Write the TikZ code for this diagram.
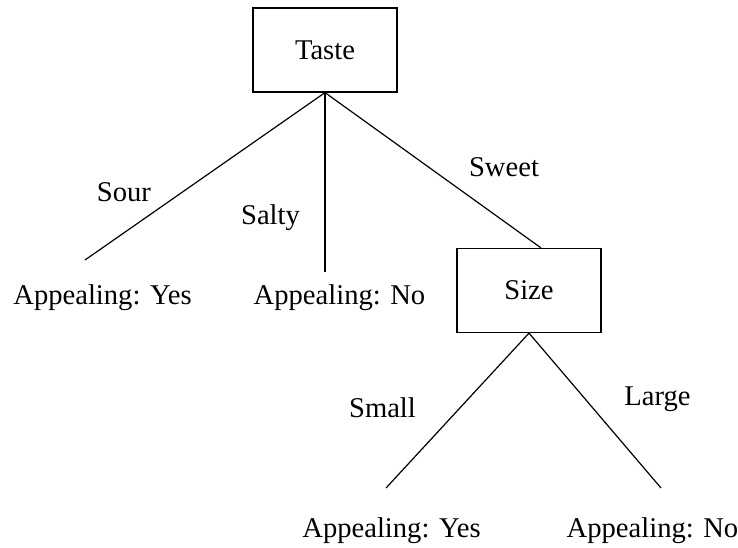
\documentclass[tikz,border=0pt]{standalone}
\usepackage{fontspec}
\setmainfont{Liberation Serif}
\usetikzlibrary{positioning}

\begin{document}
\begin{tikzpicture}[x=0.5pt, y=-0.5pt, line width=0.6pt,
    every node/.style={font=\fontsize{14.3}{17}\selectfont},
    testbox/.style={draw, minimum width=72pt, minimum height=42pt, inner sep=0pt},
    edgetext/.style={anchor=base, inner sep=0pt}]

            \useasboundingbox (0,0) rectangle (738,547);

            % Test boxes
            \node[testbox] (taste) at (325,50) {Taste};
            \node[testbox] (size) at (529,290.5) {Size};

            % Leaves
            \node[edgetext] (sourleaf) at (102.5,304) {Appealing: Yes};
            \node[edgetext] (saltyleaf) at (339.5,304) {Appealing: No};
            \node[edgetext] (smallleaf) at (391.5,537) {Appealing: Yes};
            \node[edgetext] (largeleaf) at (652.5,537) {Appealing: No};

            % Free ends of the branches, above the leaves
            \coordinate (sourend) at (85,260);
            \coordinate (saltyend) at (325,272);
            \coordinate (smallend) at (386,488);
            \coordinate (largeend) at (661,488);

            % Branches
            \draw (taste.south) -- (sourend);
            \draw (taste.south) -- (saltyend);
            \draw (taste.south) -- ([xshift=6pt]size.north);
            \draw (size.south) -- (smallend);
            \draw (size.south) -- (largeend);

            % Branch labels
            \node[edgetext] (sour) at (124,201) {Sour};
            \node[edgetext] (salty) at (270.5,224) {Salty};
            \node[edgetext] (sweet) at (504,176) {Sweet};
            \node[edgetext] (small) at (382.5,417) {Small};
            \node[edgetext] (large) at (657.5,405) {Large};

        \end{tikzpicture}
\end{document}
